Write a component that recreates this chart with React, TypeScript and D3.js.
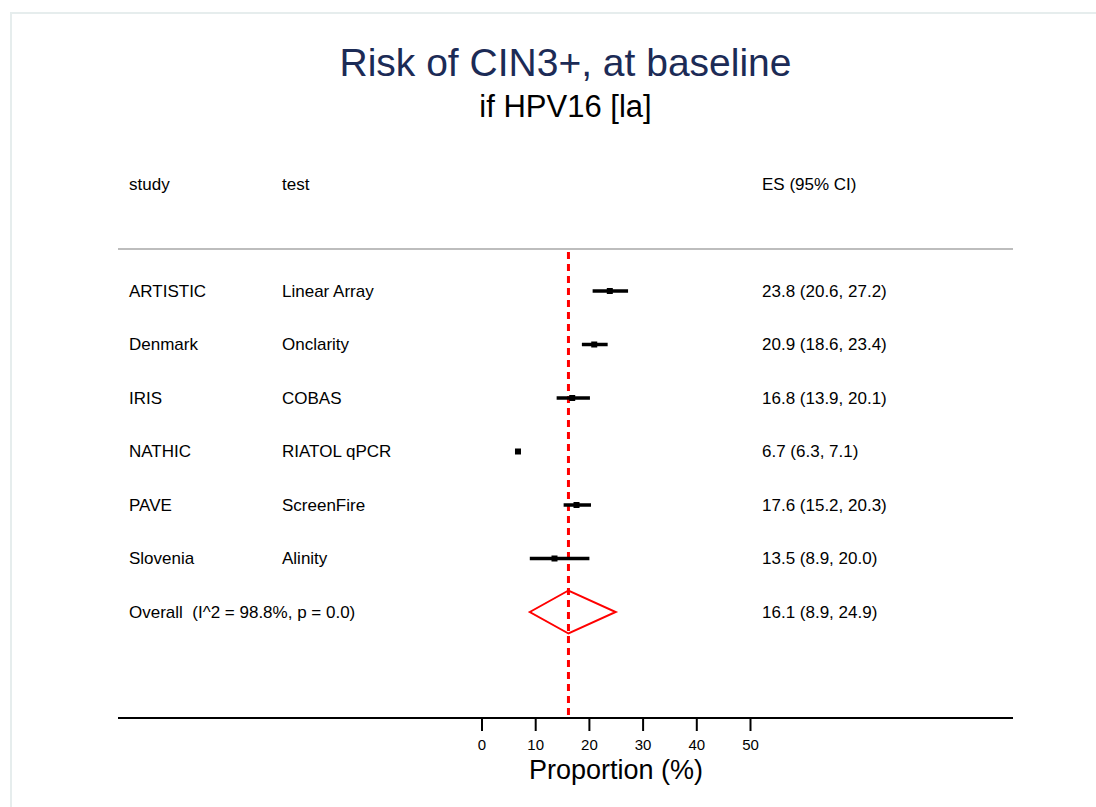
import React from 'react';
import * as d3 from 'd3';

const studies = ['ARTISTIC', 'Denmark', 'IRIS', 'NATHIC', 'PAVE', 'Slovenia'];
const tests = ['Linear Array', 'Onclarity', 'COBAS', 'RIATOL qPCR', 'ScreenFire', 'Alinity'];
const estimates = [23.8, 20.9, 16.8, 6.7, 17.6, 13.5];
const lowers = [20.6, 18.6, 13.9, 6.3, 15.2, 8.9];
const uppers = [27.2, 23.4, 20.1, 7.1, 20.3, 20.0];
const overall = [16.1, 8.9, 24.9]; // es, lo, hi
const overallLabel = 'Overall  (I^2 = 98.8%, p = 0.0)';
const xTicks = [0, 10, 20, 30, 40, 50];

const W = 1096;
const H = 807;
const font = '"Liberation Sans", Arial, Helvetica, sans-serif';

const fmt = (es: number, lo: number, hi: number) =>
  `${es.toFixed(1)} (${lo.toFixed(1)}, ${hi.toFixed(1)})`;

const App = () => {
  const x = d3.scaleLinear().domain([0, 50]).range([482, 750.5]);
  const y = d3.scaleLinear().domain([0, studies.length]).range([291, 612]);

  const left = 118;
  const right = 1013;
  const axisY = 718;
  const headerY = 249;

  const oy = y(studies.length);
  const diamond = [
    [x(overall[1]), oy],
    [x(overall[0]), oy - 21.5],
    [x(overall[2]), oy],
    [x(overall[0]), oy + 21.5],
  ];

  return (
    <svg
      width={W}
      height={H}
      style={{ position: 'absolute', left: 0, top: 0, background: '#fff', fontFamily: font }}
    >
      <rect x={11} y={13} width={1200} height={900} fill="none" stroke="#e6eded" strokeWidth={2} />

      {/* titles */}
      <text x={565.5} y={76} textAnchor="middle" fontSize={39} fill="#1c2b56">
        Risk of CIN3+, at baseline
      </text>
      <text x={565.5} y={117} textAnchor="middle" fontSize={31} fill="#000">
        if HPV16 [la]
      </text>

      {/* column headers */}
      <g fontSize={17} fill="#000">
        <text x={129} y={184} dominantBaseline="central">study</text>
        <text x={282} y={184} dominantBaseline="central">test</text>
        <text x={762} y={184} dominantBaseline="central">ES (95% CI)</text>
      </g>
      <line x1={left} x2={right} y1={headerY} y2={headerY} stroke="#bdbdbd" strokeWidth={2} />

      {/* dashed line at pooled estimate */}
      <line
        x1={x(overall[0])}
        x2={x(overall[0])}
        y1={headerY + 3}
        y2={axisY}
        stroke="#ff0000"
        strokeWidth={3}
        strokeDasharray="7,5"
      />

      {/* study rows */}
      {studies.map((s, i) => (
        <g key={s}>
          <text x={129} y={y(i)} dominantBaseline="central" fontSize={17}>{s}</text>
          <text x={282} y={y(i)} dominantBaseline="central" fontSize={17}>{tests[i]}</text>
          <text x={762} y={y(i)} dominantBaseline="central" fontSize={17}>
            {fmt(estimates[i], lowers[i], uppers[i])}
          </text>
          <line x1={x(lowers[i])} x2={x(uppers[i])} y1={y(i)} y2={y(i)} stroke="#000" strokeWidth={3.5} />
          <rect x={x(estimates[i]) - 3} y={y(i) - 3} width={6} height={6} fill="#000" />
        </g>
      ))}

      {/* overall */}
      <text x={129} y={oy} dominantBaseline="central" fontSize={17} style={{ whiteSpace: 'pre' }}>
        {overallLabel}
      </text>
      <text x={762} y={oy} dominantBaseline="central" fontSize={17}>
        {fmt(overall[0], overall[1], overall[2])}
      </text>
      <polygon
        points={diamond.map((p) => p.join(',')).join(' ')}
        fill="none"
        stroke="#ff0000"
        strokeWidth={2}
      />

      {/* x axis */}
      <line x1={left} x2={right} y1={axisY} y2={axisY} stroke="#000" strokeWidth={2} />
      {xTicks.map((t) => (
        <g key={t}>
          <line x1={x(t)} x2={x(t)} y1={axisY} y2={axisY + 13} stroke="#000" strokeWidth={2} />
          <text x={x(t)} y={750} textAnchor="middle" fontSize={15}>{t}</text>
        </g>
      ))}
      <text x={616} y={779} textAnchor="middle" fontSize={27}>Proportion (%)</text>
    </svg>
  );
};

export default App;
